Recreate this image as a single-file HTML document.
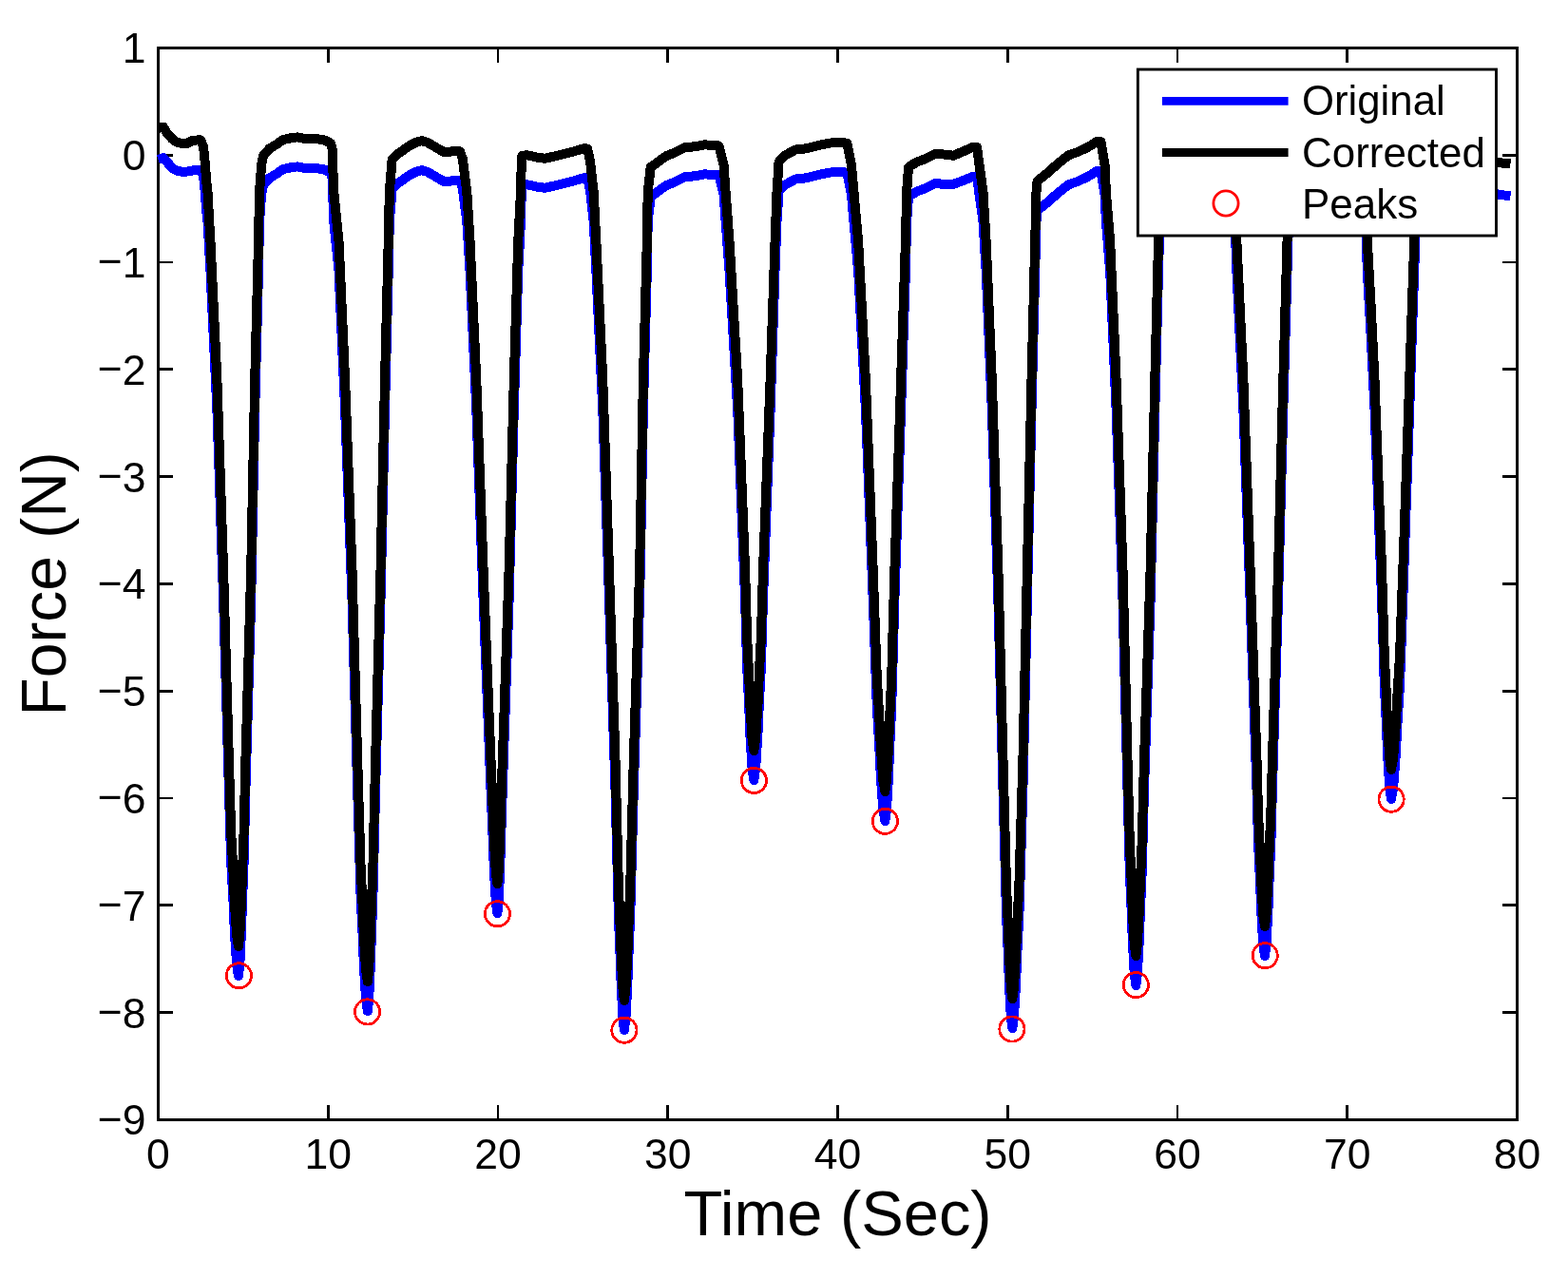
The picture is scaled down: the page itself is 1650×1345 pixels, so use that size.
<!DOCTYPE html>
<html><head><meta charset="utf-8"><title>Force vs Time</title>
<style>
html,body{margin:0;padding:0;background:#fff;}
body{width:1650px;height:1345px;overflow:hidden;}
svg{display:block;}
text{font-family:"Liberation Sans",Arial,Helvetica,sans-serif;fill:#000;}
</style></head><body>
<svg width="1650" height="1345" viewBox="0 0 1650 1345">
<rect width="1650" height="1345" fill="#fff"/>
<defs><clipPath id="ax"><rect x="165" y="50.45" width="1431.50" height="1127.90"/></clipPath></defs>
<g fill="none" stroke="#000" stroke-width="2.8" shape-rendering="crispEdges">
<rect x="166.45" y="50.45" width="1430.05" height="1127.90"/>
<path d="M166.45 1178.35V1162.75M166.45 50.45V66.05M345.21 1178.35V1162.75M345.21 50.45V66.05M523.96 1178.35V1162.75M523.96 50.45V66.05M702.72 1178.35V1162.75M702.72 50.45V66.05M881.47 1178.35V1162.75M881.47 50.45V66.05M1060.23 1178.35V1162.75M1060.23 50.45V66.05M1238.99 1178.35V1162.75M1238.99 50.45V66.05M1417.74 1178.35V1162.75M1417.74 50.45V66.05M1596.50 1178.35V1162.75M1596.50 50.45V66.05M166.45 50.45H182.05M1596.50 50.45H1580.90M166.45 163.24H182.05M1596.50 163.24H1580.90M166.45 276.03H182.05M1596.50 276.03H1580.90M166.45 388.82H182.05M1596.50 388.82H1580.90M166.45 501.61H182.05M1596.50 501.61H1580.90M166.45 614.40H182.05M1596.50 614.40H1580.90M166.45 727.19H182.05M1596.50 727.19H1580.90M166.45 839.98H182.05M1596.50 839.98H1580.90M166.45 952.77H182.05M1596.50 952.77H1580.90M166.45 1065.56H182.05M1596.50 1065.56H1580.90M166.45 1178.35H182.05M1596.50 1178.35H1580.90"/>
</g>
<g clip-path="url(#ax)" shape-rendering="crispEdges" fill="none" stroke-linejoin="round" stroke-linecap="butt">
<path d="M166.4 167.8 L171.9 166.1 L177.5 172.5 L182.6 177.8 L187.5 180.0 L192.1 180.9 L198.7 180.4 L204.6 179.0 L211.2 178.8 L213.8 184.7 L215.0 193.6 L217.4 223.3 L218.5 233.3 L221.5 286.0 L228.4 431.0 L235.1 631.0 L240.9 831.0 L243.2 907.0 L245.5 949.0 L246.8 980.0 L248.2 1001.0 L249.1 1015.0 L250.9 1027.0 L252.3 1015.0 L253.0 1001.0 L254.0 980.0 L255.0 949.0 L256.6 907.0 L258.4 831.0 L264.2 631.0 L268.2 431.0 L272.0 286.0 L273.0 233.3 L275.2 204.2 L277.0 195.0 L283.6 187.3 L290.9 183.0 L298.2 177.9 L305.5 176.4 L312.7 175.4 L320.0 176.8 L334.5 177.4 L341.8 178.6 L347.6 181.5 L349.5 187.0 L351.3 233.3 L356.6 286.0 L363.1 431.0 L370.5 631.0 L376.2 831.0 L379.6 944.0 L381.7 986.0 L382.9 1017.0 L384.2 1038.0 L385.1 1052.0 L386.8 1064.0 L388.1 1052.0 L388.8 1038.0 L389.8 1017.0 L390.8 986.0 L392.4 944.0 L395.1 831.0 L400.5 631.0 L405.0 431.0 L408.7 286.0 L409.8 233.3 L411.6 211.5 L412.7 198.4 L417.8 193.3 L423.6 189.5 L430.9 184.3 L438.2 180.6 L444.0 179.2 L449.8 180.9 L458.5 186.0 L467.3 191.1 L474.5 190.5 L481.8 189.9 L484.0 190.4 L486.9 198.4 L491.3 233.3 L494.6 286.0 L501.3 431.0 L508.6 631.0 L516.5 831.0 L518.7 883.0 L519.8 914.0 L521.0 935.0 L521.8 949.0 L523.4 961.0 L524.6 949.0 L525.3 935.0 L526.2 914.0 L527.1 883.0 L528.8 831.0 L535.6 631.0 L540.8 431.0 L545.2 286.0 L548.0 233.3 L548.7 204.2 L549.5 194.7 L554.5 194.3 L564.7 196.5 L573.5 197.8 L588.0 194.4 L602.5 190.8 L607.3 189.2 L614.5 187.3 L618.2 187.5 L621.1 201.3 L624.7 233.3 L627.4 286.0 L634.3 431.0 L641.0 631.0 L647.5 831.0 L650.9 964.0 L652.6 1006.0 L653.7 1037.0 L654.8 1058.0 L655.5 1072.0 L656.9 1084.0 L658.4 1072.0 L659.2 1058.0 L660.3 1037.0 L661.4 1006.0 L663.2 964.0 L666.8 831.0 L673.1 631.0 L676.9 431.0 L680.8 286.0 L681.7 233.3 L684.7 207.1 L694.5 199.8 L701.8 194.9 L710.5 191.4 L720.7 186.2 L730.9 185.3 L741.1 183.4 L751.3 183.8 L756.4 184.5 L761.5 204.2 L763.6 233.3 L767.6 286.0 L776.2 431.0 L784.1 631.0 L786.1 701.0 L788.2 743.0 L789.4 774.0 L790.7 795.0 L791.6 809.0 L793.3 821.0 L795.1 809.0 L796.0 795.0 L797.4 774.0 L798.7 743.0 L800.9 701.0 L803.0 631.0 L810.6 431.0 L815.5 286.0 L817.5 233.3 L819.6 201.3 L826.9 194.0 L837.0 188.6 L849.1 187.2 L860.7 184.1 L873.8 181.5 L885.5 181.1 L891.3 181.6 L895.9 204.2 L898.5 233.3 L903.2 286.0 L910.9 431.0 L918.7 631.0 L922.8 744.0 L925.3 786.0 L926.8 817.0 L928.3 838.0 L929.3 852.0 L931.4 864.0 L933.0 852.0 L933.8 838.0 L935.0 817.0 L936.2 786.0 L938.2 744.0 L941.4 631.0 L948.1 431.0 L952.9 286.0 L954.1 233.3 L956.0 207.1 L964.0 201.9 L974.2 197.9 L984.4 193.0 L994.5 194.0 L1003.3 193.8 L1013.5 190.0 L1023.6 185.9 L1028.0 186.0 L1034.5 233.3 L1037.7 286.0 L1043.8 431.0 L1050.4 631.0 L1055.5 831.0 L1059.0 962.0 L1060.8 1004.0 L1061.9 1035.0 L1063.0 1056.0 L1063.8 1070.0 L1065.3 1082.0 L1067.0 1070.0 L1067.8 1056.0 L1069.1 1035.0 L1070.3 1004.0 L1072.4 962.0 L1076.4 831.0 L1080.9 631.0 L1085.5 431.0 L1089.2 286.0 L1090.5 233.3 L1091.6 221.6 L1101.1 213.9 L1112.7 203.7 L1124.4 194.3 L1134.5 190.8 L1144.7 186.0 L1154.9 179.5 L1158.5 180.2 L1162.5 204.2 L1163.9 233.3 L1168.2 286.0 L1174.6 431.0 L1181.5 631.0 L1186.5 831.0 L1188.8 917.0 L1190.7 959.0 L1191.8 990.0 L1193.0 1011.0 L1193.7 1025.0 L1195.3 1037.0 L1196.8 1025.0 L1197.6 1011.0 L1198.8 990.0 L1199.9 959.0 L1201.7 917.0 L1204.0 831.0 L1210.6 631.0 L1215.3 431.0 L1219.0 286.0 L1220.5 233.0 L1222.0 201.0 L1230.0 191.0 L1260.0 186.0 L1290.0 183.0 L1297.0 196.0 L1299.5 233.0 L1301.4 285.5 L1308.4 431.0 L1315.6 631.0 L1322.5 831.0 L1324.0 886.0 L1326.0 928.0 L1327.2 959.0 L1328.4 980.0 L1329.3 994.0 L1330.9 1006.0 L1332.5 994.0 L1333.2 980.0 L1334.4 959.0 L1335.5 928.0 L1337.4 886.0 L1338.9 831.0 L1345.0 631.0 L1350.3 431.0 L1354.5 285.5 L1356.0 233.0 L1358.0 201.0 L1365.0 191.0 L1400.0 186.0 L1430.0 183.0 L1435.0 196.0 L1437.0 233.0 L1438.9 286.5 L1442.7 354.3 L1446.5 431.0 L1454.1 631.0 L1456.8 721.0 L1458.9 763.0 L1460.1 794.0 L1461.4 815.0 L1462.3 829.0 L1464.0 841.0 L1466.1 829.0 L1467.2 815.0 L1468.8 794.0 L1470.4 763.0 L1473.0 721.0 L1476.3 631.0 L1483.2 431.0 L1485.8 354.3 L1488.2 286.5 L1490.0 233.0 L1492.0 206.0 L1500.0 199.0 L1540.0 199.0 L1576.0 204.4 L1589.5 206.5" stroke="#0000ff" stroke-width="10.0"/>
<path d="M166.4 135.2 L171.9 133.6 L175.0 139.0 L181.0 146.0 L186.0 149.6 L190.9 150.9 L196.9 150.9 L201.6 148.3 L207.6 147.4 L211.2 147.4 L213.8 153.7 L215.0 162.6 L217.4 192.3 L218.5 202.3 L221.5 255.0 L228.4 400.0 L235.1 600.0 L240.9 800.0 L243.2 876.0 L245.5 918.0 L246.8 949.0 L248.2 970.0 L249.1 984.0 L250.9 996.0 L252.3 984.0 L253.0 970.0 L254.0 949.0 L255.0 918.0 L256.6 876.0 L258.4 800.0 L264.2 600.0 L268.2 400.0 L272.0 255.0 L273.0 202.3 L275.2 173.2 L277.0 164.0 L283.6 156.3 L290.9 152.0 L298.2 146.9 L305.5 145.4 L312.7 144.4 L320.0 145.8 L334.5 146.4 L341.8 147.6 L347.6 150.5 L349.5 156.0 L351.3 202.3 L356.6 255.0 L363.1 400.0 L370.5 600.0 L376.2 800.0 L379.6 913.0 L381.7 955.0 L382.9 986.0 L384.2 1007.0 L385.1 1021.0 L386.8 1033.0 L388.1 1021.0 L388.8 1007.0 L389.8 986.0 L390.8 955.0 L392.4 913.0 L395.1 800.0 L400.5 600.0 L405.0 400.0 L408.7 255.0 L409.8 202.3 L411.6 180.5 L412.7 167.4 L417.8 162.3 L423.6 158.5 L430.9 153.3 L438.2 149.6 L444.0 148.2 L449.8 149.9 L458.5 155.0 L467.3 160.1 L474.5 159.5 L481.8 158.9 L484.0 159.4 L486.9 167.4 L491.3 202.3 L494.6 255.0 L501.3 400.0 L508.6 600.0 L516.5 800.0 L518.7 852.0 L519.8 883.0 L521.0 904.0 L521.8 918.0 L523.4 930.0 L524.6 918.0 L525.3 904.0 L526.2 883.0 L527.1 852.0 L528.8 800.0 L535.6 600.0 L540.8 400.0 L545.2 255.0 L548.0 202.3 L548.7 173.2 L549.5 163.7 L554.5 163.3 L564.7 165.5 L573.5 166.8 L588.0 163.4 L602.5 159.8 L607.3 158.2 L614.5 156.3 L618.2 156.5 L621.1 170.3 L624.7 202.3 L627.4 255.0 L634.3 400.0 L641.0 600.0 L647.5 800.0 L650.9 933.0 L652.6 975.0 L653.7 1006.0 L654.8 1027.0 L655.5 1041.0 L656.9 1053.0 L658.4 1041.0 L659.2 1027.0 L660.3 1006.0 L661.4 975.0 L663.2 933.0 L666.8 800.0 L673.1 600.0 L676.9 400.0 L680.8 255.0 L681.7 202.3 L684.7 176.1 L694.5 168.8 L701.8 163.9 L710.5 160.4 L720.7 155.2 L730.9 154.3 L741.1 152.4 L751.3 152.8 L756.4 153.5 L761.5 173.2 L763.6 202.3 L767.6 255.0 L776.2 400.0 L784.1 600.0 L786.1 670.0 L788.2 712.0 L789.4 743.0 L790.7 764.0 L791.6 778.0 L793.3 790.0 L795.1 778.0 L796.0 764.0 L797.4 743.0 L798.7 712.0 L800.9 670.0 L803.0 600.0 L810.6 400.0 L815.5 255.0 L817.5 202.3 L819.6 170.3 L826.9 163.0 L837.0 157.6 L849.1 156.2 L860.7 153.1 L873.8 150.5 L885.5 150.1 L891.3 150.6 L895.9 173.2 L898.5 202.3 L903.2 255.0 L910.9 400.0 L918.7 600.0 L922.8 713.0 L925.3 755.0 L926.8 786.0 L928.3 807.0 L929.3 821.0 L931.4 833.0 L933.0 821.0 L933.8 807.0 L935.0 786.0 L936.2 755.0 L938.2 713.0 L941.4 600.0 L948.1 400.0 L952.9 255.0 L954.1 202.3 L956.0 176.1 L964.0 170.9 L974.2 166.9 L984.4 162.0 L994.5 162.6 L1003.3 163.7 L1013.5 159.4 L1023.6 154.9 L1028.0 155.0 L1034.5 202.3 L1037.7 255.0 L1043.8 400.0 L1050.4 600.0 L1055.5 800.0 L1059.0 931.0 L1060.8 973.0 L1061.9 1004.0 L1063.0 1025.0 L1063.8 1039.0 L1065.3 1051.0 L1067.0 1039.0 L1067.8 1025.0 L1069.1 1004.0 L1070.3 973.0 L1072.4 931.0 L1076.4 800.0 L1080.9 600.0 L1085.5 400.0 L1089.2 255.0 L1090.5 202.3 L1091.6 190.6 L1101.1 182.9 L1112.7 172.7 L1124.4 163.3 L1134.5 159.8 L1144.7 155.0 L1154.9 148.5 L1158.5 149.2 L1162.5 173.2 L1163.9 202.3 L1168.2 255.0 L1174.6 400.0 L1181.5 600.0 L1186.5 800.0 L1188.8 886.0 L1190.7 928.0 L1191.8 959.0 L1193.0 980.0 L1193.7 994.0 L1195.3 1006.0 L1196.8 994.0 L1197.6 980.0 L1198.8 959.0 L1199.9 928.0 L1201.7 886.0 L1204.0 800.0 L1210.6 600.0 L1215.3 400.0 L1219.0 255.0 L1220.5 202.0 L1222.0 170.0 L1230.0 160.0 L1260.0 155.0 L1290.0 152.0 L1297.0 165.0 L1299.5 202.0 L1301.4 254.5 L1308.4 400.0 L1315.6 600.0 L1322.5 800.0 L1324.0 855.0 L1326.0 897.0 L1327.2 928.0 L1328.4 949.0 L1329.3 963.0 L1330.9 975.0 L1332.5 963.0 L1333.2 949.0 L1334.4 928.0 L1335.5 897.0 L1337.4 855.0 L1338.9 800.0 L1345.0 600.0 L1350.3 400.0 L1354.5 254.5 L1356.0 202.0 L1358.0 170.0 L1365.0 160.0 L1400.0 155.0 L1430.0 152.0 L1435.0 165.0 L1437.0 202.0 L1438.9 255.5 L1442.7 323.3 L1446.5 400.0 L1454.1 600.0 L1456.8 690.0 L1458.9 732.0 L1460.1 763.0 L1461.4 784.0 L1462.3 798.0 L1464.0 810.0 L1466.1 798.0 L1467.2 784.0 L1468.8 763.0 L1470.4 732.0 L1473.0 690.0 L1476.3 600.0 L1483.2 400.0 L1485.8 323.3 L1488.2 255.5 L1490.0 202.0 L1492.0 175.0 L1500.0 168.0 L1540.0 168.0 L1576.0 171.0 L1589.5 172.5" stroke="#000" stroke-width="10.0"/>
</g>
<g fill="none" stroke="#ff0000" stroke-width="2.8" shape-rendering="crispEdges">
<circle cx="251.4" cy="1026.8" r="13.1"/><circle cx="386.6" cy="1064.9" r="13.1"/><circle cx="523.4" cy="961.8" r="13.1"/><circle cx="656.9" cy="1084.2" r="13.1"/><circle cx="793.4" cy="821.4" r="13.1"/><circle cx="931.4" cy="864.3" r="13.1"/><circle cx="1064.9" cy="1083.0" r="13.1"/><circle cx="1195.3" cy="1036.6" r="13.1"/><circle cx="1331.2" cy="1005.7" r="13.1"/><circle cx="1464.1" cy="841.2" r="13.1"/>
</g>
<g font-size="44.5">
<text x="166.45" y="1230.00" text-anchor="middle">0</text><text x="345.21" y="1230.00" text-anchor="middle">10</text><text x="523.96" y="1230.00" text-anchor="middle">20</text><text x="702.72" y="1230.00" text-anchor="middle">30</text><text x="881.47" y="1230.00" text-anchor="middle">40</text><text x="1060.23" y="1230.00" text-anchor="middle">50</text><text x="1238.99" y="1230.00" text-anchor="middle">60</text><text x="1417.74" y="1230.00" text-anchor="middle">70</text><text x="1596.50" y="1230.00" text-anchor="middle">80</text><text x="153.40" y="66.45" text-anchor="end">1</text><text x="153.40" y="179.24" text-anchor="end">0</text><text x="153.40" y="292.03" text-anchor="end"><tspan dy="-1.6">−</tspan><tspan dy="1.6">1</tspan></text><text x="153.40" y="404.82" text-anchor="end"><tspan dy="-1.6">−</tspan><tspan dy="1.6">2</tspan></text><text x="153.40" y="517.61" text-anchor="end"><tspan dy="-1.6">−</tspan><tspan dy="1.6">3</tspan></text><text x="153.40" y="630.40" text-anchor="end"><tspan dy="-1.6">−</tspan><tspan dy="1.6">4</tspan></text><text x="153.40" y="743.19" text-anchor="end"><tspan dy="-1.6">−</tspan><tspan dy="1.6">5</tspan></text><text x="153.40" y="855.98" text-anchor="end"><tspan dy="-1.6">−</tspan><tspan dy="1.6">6</tspan></text><text x="153.40" y="968.77" text-anchor="end"><tspan dy="-1.6">−</tspan><tspan dy="1.6">7</tspan></text><text x="153.40" y="1081.56" text-anchor="end"><tspan dy="-1.6">−</tspan><tspan dy="1.6">8</tspan></text><text x="153.40" y="1194.35" text-anchor="end"><tspan dy="-1.6">−</tspan><tspan dy="1.6">9</tspan></text>
</g>
<text font-size="66.8" x="881.48" y="1300" text-anchor="middle">Time (Sec)</text>
<text font-size="66.8" transform="translate(69 614.40) rotate(-90) scale(0.986 1)" text-anchor="middle">Force (N)</text>
<g>
<rect x="1197.35" y="73.05" width="377.15" height="175.0" fill="#fff" stroke="#000" stroke-width="2.9"/>
<path d="M1222.9 106.4H1355.6" stroke="#0000ff" stroke-width="8.9"/>
<path d="M1222.9 160.5H1355.6" stroke="#000" stroke-width="8.9"/>
<circle cx="1290" cy="214" r="13.1" fill="none" stroke="#ff0000" stroke-width="2.8"/>
<g font-size="44.5">
<text transform="translate(1370 121.4) scale(0.983 1)">Original</text>
<text transform="translate(1370 175.7) scale(0.987 1)">Corrected</text>
<text transform="translate(1370 230) scale(0.988 1)">Peaks</text>
</g>
</g>
</svg>
</body></html>
